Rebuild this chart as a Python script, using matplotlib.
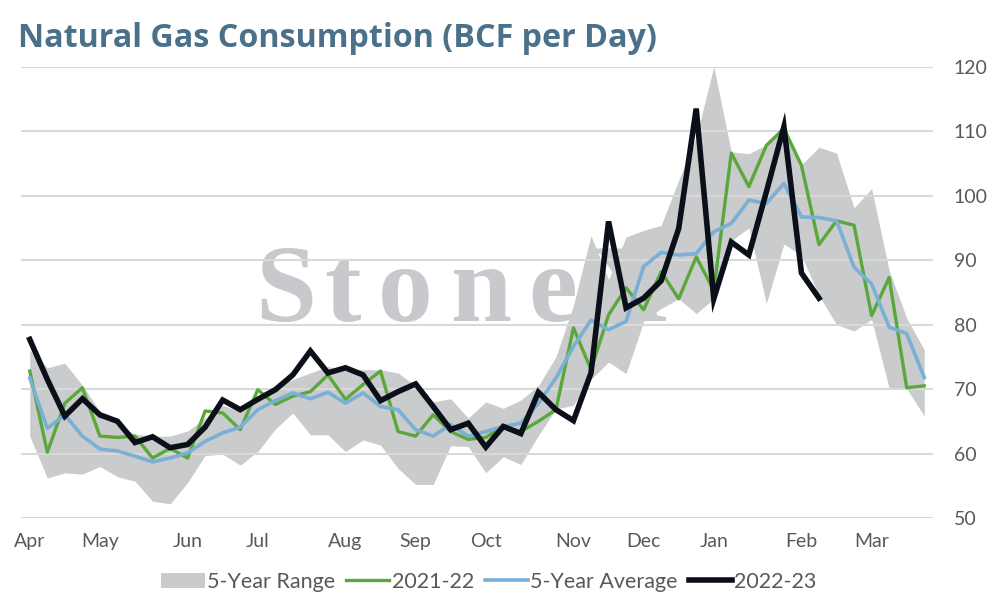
import matplotlib.pyplot as plt

# weekly data, Apr -> Mar (52 weeks)
months = ['Apr', 'May', 'Jun', 'Jul', 'Aug', 'Sep', 'Oct', 'Nov', 'Dec', 'Jan', 'Feb', 'Mar']
month_pos = [0, 4, 9, 13, 18, 22, 26, 31, 35, 39, 44, 48]

range_low = [62.7, 56.2, 57.0, 56.8, 58.0, 56.4, 55.7, 52.6, 52.2, 55.5,
             59.7, 59.9, 58.2, 60.3, 63.8, 66.3, 62.9, 62.9, 60.3, 62.1,
             61.3, 57.7, 55.2, 55.2, 61.2, 61.1, 57.0, 59.5, 58.3, 62.8,
             66.9, 67.5, 71.5, 74.2, 72.4, 80.5, 82.5, 84.0, 81.7, 84.0,
             93.0, 95.0, 83.3, 92.5, 90.7, 84.5, 80.0, 79.0, 80.8, 70.1,
             70.1, 65.8]
range_high = [76.0, 73.3, 74.0, 70.6, 66.5, 64.5, 63.0, 62.7, 62.7, 63.5,
              65.5, 67.5, 66.5, 69.0, 70.5, 71.5, 72.5, 73.5, 73.0, 73.0,
              73.0, 72.5, 70.5, 68.0, 68.5, 65.5, 68.0, 67.0, 68.3, 70.5,
              75.0, 83.0, 93.8, 87.0, 93.6, 94.6, 95.4, 102.4, 109.1, 120.0,
              106.8, 106.5, 107.9, 110.7, 104.8, 107.5, 106.6, 98.1, 101.1, 88.4,
              81.0, 76.1]
y2021 = [72.8, 60.2, 67.8, 70.2, 62.7, 62.5, 62.7, 59.3, 60.8, 59.3,
         66.6, 66.3, 63.7, 69.9, 67.6, 68.9, 69.6, 72.2, 68.4, 70.7,
         72.8, 63.4, 62.7, 66.0, 63.4, 62.2, 62.5, 64.2, 63.4, 65.0,
         66.8, 79.5, 73.0, 81.5, 85.7, 82.3, 88.2, 84.0, 90.5, 85.3,
         106.6, 101.4, 107.8, 110.4, 104.7, 92.4, 96.1, 95.4, 81.4, 87.3,
         70.2, 70.5]
avg5 = [71.7, 63.9, 66.0, 62.7, 60.7, 60.4, 59.6, 58.7, 59.3, 60.1,
        61.9, 63.2, 64.1, 66.8, 68.2, 69.4, 68.5, 69.5, 67.8, 69.4,
        67.3, 66.8, 63.7, 62.7, 64.5, 62.7, 63.4, 64.2, 64.7, 67.8,
        71.7, 76.6, 80.7, 79.2, 80.5, 89.0, 91.2, 90.8, 91.0, 94.4,
        95.7, 99.3, 98.8, 101.9, 96.7, 96.6, 96.1, 88.9, 86.3, 79.6,
        78.6, 71.8]
y2022 = [77.7, 71.5, 65.8, 68.5, 66.0, 65.0, 61.7, 62.6, 60.9, 61.4,
         64.1, 68.3, 66.8, 68.4, 69.9, 72.2, 75.9, 72.5, 73.3, 72.2,
         68.2, 69.6, 70.8, 67.3, 63.7, 64.7, 61.0, 64.2, 63.1, 69.5,
         66.8, 65.1, 72.5, 96.0, 82.6, 84.1, 86.8, 94.9, 113.5, 84.0,
         92.8, 90.8, 100.6, 110.7, 88.0, 84.1]

FONT = 'Lato'
TEXT_GREY = '#595959'

fig = plt.figure(figsize=(9.94, 6.0), dpi=100)
ax = fig.add_axes([21 / 994, 1 - 518 / 600, 912 / 994, (518 - 66.7) / 600])

weeks = list(range(len(range_low)))
ax.fill_between(weeks, range_low, range_high, color='#c9cbcc', lw=0,
                zorder=1, label='5-Year Range')
for yv in range(50, 121, 10):
    ax.axhline(yv, color='#d9d9d9', lw=1.5, zorder=1.5)
ax.plot(weeks, y2021, color='#5aa83c', lw=2.4, zorder=2, label='2021-22')
ax.plot(weeks, avg5, color='#7aafd6', lw=2.6, zorder=2.1, label='5-Year Average')
ax.plot(range(len(y2022)), y2022, color='#0b0f19', lw=4.0, zorder=3,
        solid_joinstyle='miter', label='2022-23')

# watermark, letters spaced out like the logo
wm_x = [286, 343, 405, 482, 553, 628]
for ch, px in zip('StoneX', wm_x):
    ax.text(px / 994, 1 - 321 / 600, ch, transform=fig.transFigure,
            fontfamily='Liberation Serif', fontweight='bold', fontsize=79,
            color='#c8c9cc', va='baseline', ha='center', zorder=0.5)

ax.set_xlim(-0.5, len(weeks) - 0.5)
ax.set_ylim(50, 120)
ax.set_yticks(range(50, 121, 10))
ax.yaxis.tick_right()
ax.set_xticks(month_pos)
ax.set_xticklabels(months)
ax.tick_params(axis='both', length=0, labelsize=14, labelcolor=TEXT_GREY)
ax.tick_params(axis='y', pad=15)
ax.tick_params(axis='x', pad=11)
for lab in ax.get_xticklabels() + ax.get_yticklabels():
    lab.set_fontfamily(FONT)
for s in ax.spines.values():
    s.set_visible(False)

fig.text(18 / 994, 1 - 47 / 600, 'Natural Gas Consumption (BCF per Day)',
         fontfamily='Open Sans', fontweight='bold', fontsize=23.2, color='#4b7089',
         va='baseline', ha='left')

handles, labels = ax.get_legend_handles_labels()
fig.legend(handles, labels, loc='center', bbox_to_anchor=(489 / 994, 1 - 582 / 600),
           ncol=4, frameon=False, prop={'family': FONT, 'size': 15.5},
           labelcolor=TEXT_GREY, handlelength=2.0, handletextpad=0.12,
           columnspacing=0.5)

fig.savefig('out.png', dpi=100)
